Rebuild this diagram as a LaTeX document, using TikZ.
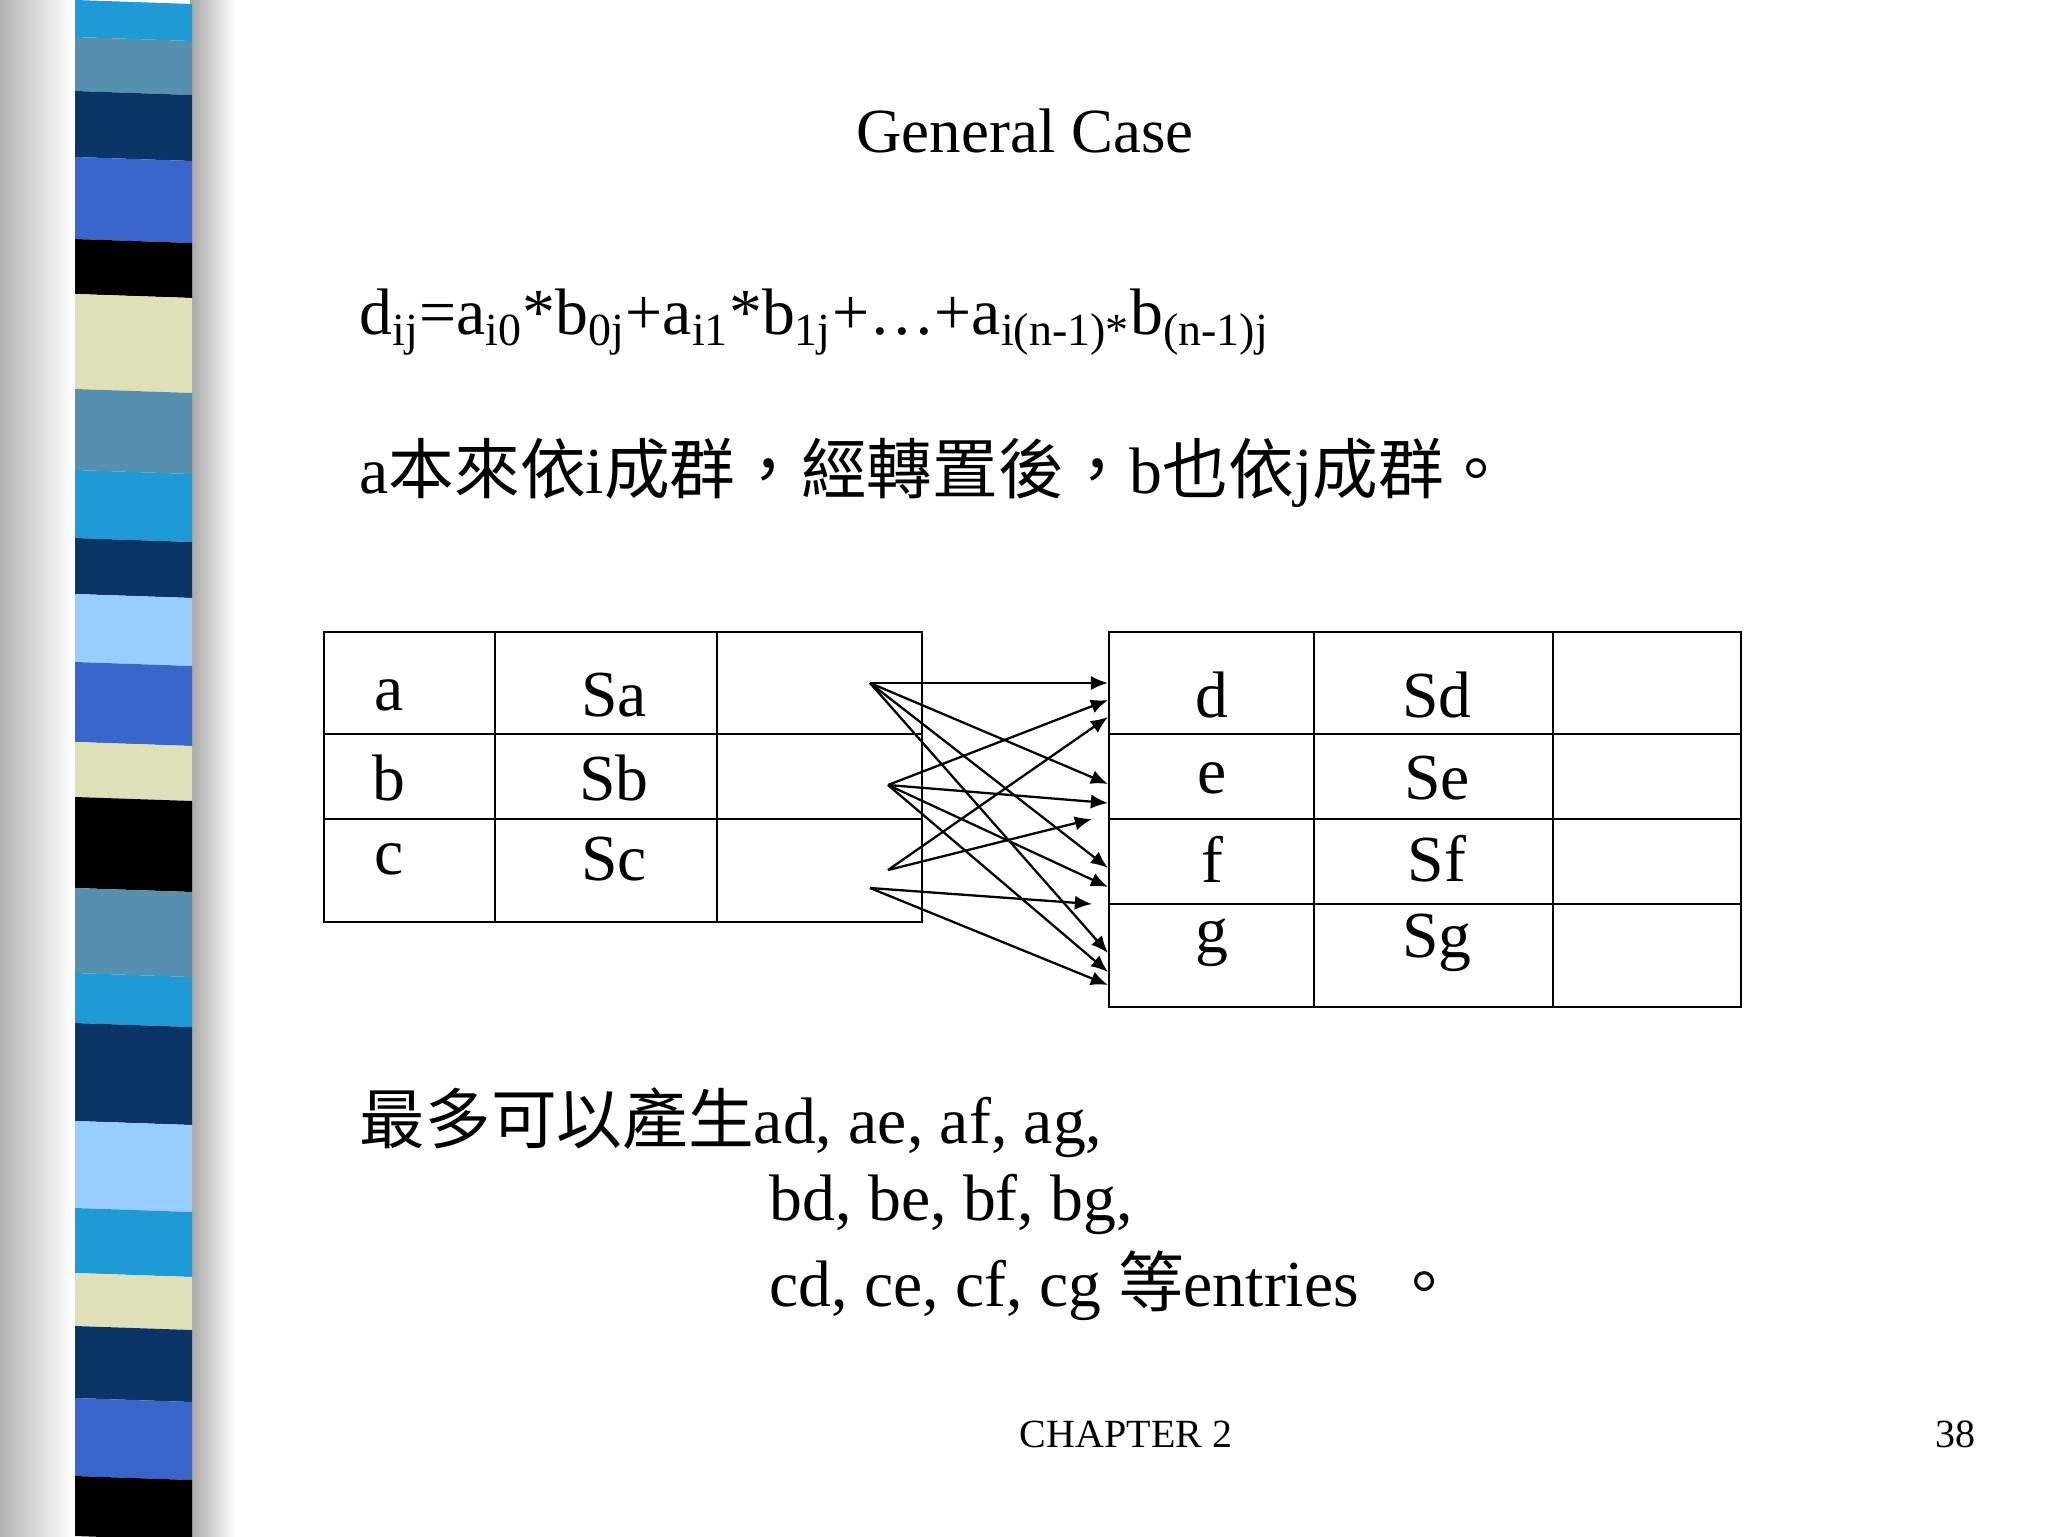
\documentclass[tikz,border=0pt]{standalone}
\usepackage{fontspec}
\setmainfont{Liberation Serif}
\newfontfamily\cjk{Noto Sans CJK TC}
\usetikzlibrary{arrows.meta}
\begin{document}
\begin{tikzpicture}[x=0.35pt,y=-0.35pt,
  tx/.style={inner sep=0pt,font=\fontsize{23}{27}\selectfont},
  ln/.style={line width=0.8pt},
  ar/.style={line width=0.8pt,-{Latex[length=6pt,width=5pt]}}]
\useasboundingbox (0,0) rectangle (2048,1536);
\fill[white] (0,0) rectangle (2048,1536);
% left shadow
\shade[left color=gray!60,right color=white] (0,0) rectangle (72,1536);
\shade[left color=gray!70,right color=white] (190,0) rectangle (235,1536);
% stripes
\def\stripes{0/37/1E9BD7,37/91/5591AE,91/157/0B3566,157/239/3A66CC,239/294/000000,294/389/E0E0B8,389/470/5591AE,470/538/1E9BD7,538/594/0B3566,594/662/99CCFF,662/742/3A66CC,742/797/E0E0B8,797/888/000000,888/973/5591AE,973/1023/1E9BD7,1023/1121/0B3566,1121/1208/99CCFF,1208/1273/1E9BD7,1273/1326/E0E0B8,1326/1398/0B3566,1398/1476/3A66CC,1476/1536/000000}
\foreach \a/\b/\c in \stripes {
  \definecolor{sc}{HTML}{\c}
  \fill[sc] (75,\a) -- (192,\a+4) -- (192,\b+4) -- (75,\b) -- cycle;
}
\node[inner sep=0pt,font=\fontsize{22}{26}\selectfont] (title) at (1025,131) {General Case};
\node[tx,anchor=west] (formula) at (359,322) {d\textsubscript{ij}=a\textsubscript{i0}*b\textsubscript{0j}+a\textsubscript{i1}*b\textsubscript{1j}+…+a\textsubscript{i(n-1)*}b\textsubscript{(n-1)j}};
\node[tx,anchor=west] (zh) at (359,473) {a{\cjk 本來依}i{\cjk 成群，經轉置後，}b{\cjk 也依}j{\cjk 成群。}};
% left table
\draw[ln] (324,632) rectangle (922,922);
\draw[ln] (495,632) -- (495,922) (717,632) -- (717,922) (324,734) -- (922,734) (324,819) -- (922,819);
% right table
\draw[ln] (1109,632) rectangle (1741,1007);
\draw[ln] (1314,632) -- (1314,1007) (1553,632) -- (1553,1007) (1109,734) -- (1741,734) (1109,819) -- (1741,819) (1109,904) -- (1741,904);
\foreach \n/\l/\y in {la/a/695,lb/b/778,lc/c/859} {
  \node[tx] (\n) at (389,\y) {\l};
  \node[tx] (S\n) at (614,\y) {S\l};
}
\foreach \n/\l/\y in {rd/d/695,re/e/778,rf/f/859,rg/g/943} {
  \node[tx] (\n) at (1212,\y) {\l};
  \node[tx] (S\n) at (1437,\y) {S\l};
}
% arrows
\coordinate (A) at (870,683); \coordinate (B) at (888,785);
\coordinate (C) at (888,870); \coordinate (D) at (870,888);
\foreach \p in {(1108,683),(1108,784),(1108,868),(1108,953)} \draw[ar] (A) -- \p;
\foreach \p in {(1108,700),(1108,803),(1108,887),(1108,972)} \draw[ar] (B) -- \p;
\foreach \p in {(1108,717),(1092,819)} \draw[ar] (C) -- \p;
\foreach \p in {(1092,904),(1108,985)} \draw[ar] (D) -- \p;
\node[tx,anchor=west] (r1) at (359,1123) {{\cjk 最多可以產生}ad, ae, af, ag,};
\node[tx,anchor=west] (r2) at (769,1204) {bd, be, bf, bg,};
\node[tx,anchor=west] (r3) at (769,1286) {cd, ce, cf, cg {\cjk 等}entries \ {\cjk 。}};
\node[inner sep=0pt,font=\fontsize{14}{16}\selectfont] (ch) at (1126,1434) {CHAPTER 2};
\node[inner sep=0pt,font=\fontsize{14}{16}\selectfont] (pg) at (1955,1434) {38};
\end{tikzpicture}
\end{document}
